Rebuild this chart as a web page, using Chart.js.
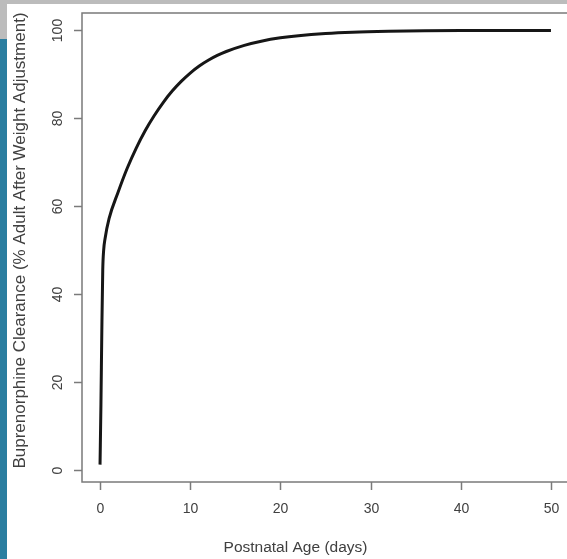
<!DOCTYPE html>
<html lang="en">
<head>
  <meta charset="UTF-8">
  <title>Buprenorphine Clearance vs Postnatal Age</title>
  <script src="https://cdn.jsdelivr.net/npm/chart.js"></script>
  <style>
    html, body {
      margin: 0;
      padding: 0;
      background: #fff;
      overflow: hidden;
    }
    .frame {
      position: relative;
      width: 567px;
      height: 559px;
      overflow: hidden;
    }
    .topbar {
      position: absolute;
      left: 0; top: 0;
      width: 567px; height: 4px;
      background: #bcbcbc;
    }
    .sidebar-grey {
      position: absolute;
      left: 0; top: 0;
      width: 7px; height: 39px;
      background: #bcbcbc;
    }
    .sidebar-blue {
      position: absolute;
      left: 0; top: 39px;
      width: 7px; height: 520px;
      background: #2a7ea0;
    }
    .plot {
      position: absolute;
      left: 0; top: 0;
      width: 580px; height: 559px;
    }
  </style>
</head>
<body>
  <div class="frame">
    <div class="topbar"></div>
    <div class="sidebar-grey"></div>
    <div class="sidebar-blue"></div>
    <div class="plot"><canvas id="clearanceChart" width="580" height="559"></canvas></div>
  </div>

  <script>
    // maturation curve: postnatal age (days) vs clearance (% of adult, weight adjusted)
    const ageDays = [0, 0.1, 0.2, 0.3, 0.4, 0.55, 1, 2, 3, 4, 5, 6, 7, 8, 9, 10, 11, 12, 13, 14, 16, 18, 20, 22, 25, 28, 32, 36, 40, 45, 50];
    const clearancePct = [1.3, 15, 32, 45.5, 50, 52.6, 57.2, 63.2, 68.6, 73.2, 77.2, 80.6, 83.6, 86.2, 88.4, 90.3, 91.9, 93.2, 94.3, 95.2, 96.6, 97.6, 98.3, 98.8, 99.3, 99.6, 99.8, 99.9, 99.95, 99.98, 100];

    const xTicks = [0, 10, 20, 30, 40, 50];
    const yTicks = [0, 20, 40, 60, 80, 100];
    const xTitle = 'Postnatal Age (days)';
    const yTitle = 'Buprenorphine Clearance (% Adult After Weight Adjustment)';

    const axisColor = '#7a7a7a';
    const textColor = '#404040';
    const fontFamily = '"Liberation Sans", Arial, Helvetica, sans-serif';

    // base-graphics style frame, outward ticks and rotated y labels
    const baseAxes = {
      id: 'baseAxes',
      afterDraw(chart) {
        const { ctx, chartArea: a, scales: { x, y } } = chart;
        ctx.save();
        ctx.strokeStyle = axisColor;
        ctx.lineWidth = 1.5;
        ctx.strokeRect(a.left, a.top, a.right - a.left, a.bottom - a.top);

        ctx.fillStyle = textColor;
        ctx.font = '14px ' + fontFamily;

        // x ticks
        ctx.textAlign = 'center';
        ctx.textBaseline = 'middle';
        xTicks.forEach(v => {
          const px = Math.round(x.getPixelForValue(v)) + 0.5;
          ctx.beginPath();
          ctx.moveTo(px, a.bottom);
          ctx.lineTo(px, a.bottom + 8);
          ctx.stroke();
          ctx.fillText(String(v), px, a.bottom + 27);
        });

        // y ticks, labels parallel to the axis
        yTicks.forEach(v => {
          const py = Math.round(y.getPixelForValue(v)) + 0.5;
          ctx.beginPath();
          ctx.moveTo(a.left, py);
          ctx.lineTo(a.left - 8, py);
          ctx.stroke();
          ctx.save();
          ctx.translate(a.left - 24, py);
          ctx.rotate(-Math.PI / 2);
          ctx.fillText(String(v), 0, 0);
          ctx.restore();
        });

        // axis titles
        ctx.font = '15.5px ' + fontFamily;
        ctx.fillText(xTitle, (a.left + a.right) / 2 - 30, a.bottom + 66);
        ctx.font = '17px ' + fontFamily;
        ctx.save();
        ctx.translate(20, (a.top + a.bottom) / 2 - 7);
        ctx.rotate(-Math.PI / 2);
        ctx.fillText(yTitle, 0, 0);
        ctx.restore();
        ctx.restore();
      }
    };

    const ctx = document.getElementById('clearanceChart').getContext('2d');
    const chart = new Chart(ctx, {
      type: 'line',
      data: {
        datasets: [{
          data: ageDays.map((t, i) => ({ x: t, y: clearancePct[i] })),
          borderColor: '#161616',
          borderWidth: 3,
          pointRadius: 0,
          fill: false,
          cubicInterpolationMode: 'monotone',
          clip: false
        }]
      },
      options: {
        responsive: false,
        animation: false,
        events: [],
        layout: { padding: { left: 82, top: 13, right: 11, bottom: 77 } },
        plugins: { legend: { display: false }, tooltip: { enabled: false } },
        scales: {
          x: { type: 'linear', min: -2, max: 52, display: false },
          y: { type: 'linear', min: -2.65, max: 103.95, display: false }
        }
      },
      plugins: [baseAxes]
    });
  </script>
</body>
</html>
